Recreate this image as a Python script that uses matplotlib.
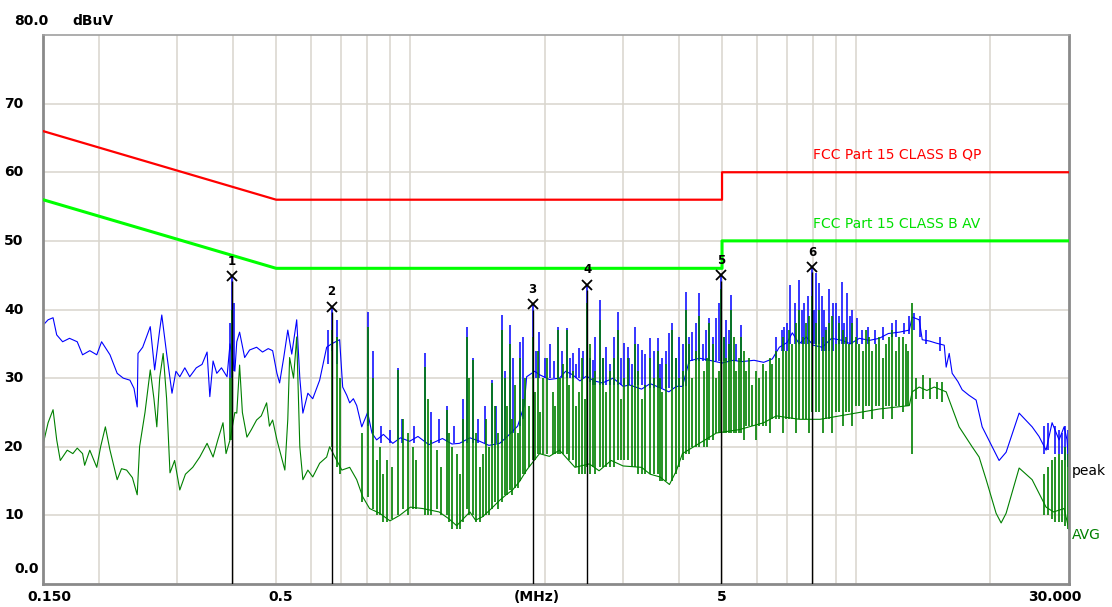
import numpy as np
import matplotlib.pyplot as plt
from matplotlib import transforms

W, H = 1112, 607

# FCC Part 15 class B limits (MHz, dBuV)
qp_f = [0.15, 0.5, 5.0, 5.0, 30.0]
qp_db = [66, 56, 56, 60, 60]
av_f = [0.15, 0.5, 5.0, 5.0, 30.0]
av_db = [56, 46, 46, 50, 50]

# peak trace (MHz, dBuV)
peak_trace = [
    (0.150, 37.7), (0.154, 38.5), (0.158, 38.8), (0.161, 36.3), (0.166, 35.3), (0.172, 35.8),
    (0.179, 35.3), (0.184, 33.4), (0.191, 34.0), (0.198, 33.4), (0.203, 35.3), (0.212, 33.4),
    (0.220, 30.7), (0.227, 30.0), (0.235, 29.7), (0.240, 28.5), (0.244, 25.8), (0.245, 33.6),
    (0.251, 34.5), (0.261, 37.5), (0.267, 31.2), (0.274, 37.0), (0.277, 39.2), (0.284, 33.6),
    (0.292, 27.8), (0.298, 31.0), (0.304, 30.2), (0.312, 31.5), (0.320, 30.2), (0.331, 31.5),
    (0.341, 32.0), (0.350, 33.8), (0.355, 27.3), (0.361, 32.5), (0.368, 30.7), (0.377, 31.5),
    (0.388, 30.2), (0.394, 35.0), (0.404, 31.0), (0.408, 35.3), (0.414, 36.7), (0.425, 33.0),
    (0.436, 34.1), (0.452, 34.5), (0.466, 33.8), (0.480, 34.3), (0.491, 34.0), (0.502, 30.7),
    (0.509, 29.3), (0.520, 33.0), (0.531, 37.0), (0.542, 33.5), (0.556, 38.5), (0.565, 30.0),
    (0.574, 24.9), (0.589, 27.8), (0.604, 27.0), (0.626, 29.7), (0.649, 34.5), (0.666, 35.0),
    (0.694, 35.6), (0.705, 28.7), (0.720, 27.5), (0.731, 26.4), (0.745, 27.0), (0.758, 26.0),
    (0.778, 22.9), (0.802, 25.0), (0.820, 22.0), (0.840, 21.0), (0.870, 21.8), (0.913, 20.5),
    (0.950, 21.3), (0.996, 20.8), (1.04, 21.5), (1.10, 20.3), (1.18, 21.2), (1.24, 20.4),
    (1.289, 20.5), (1.36, 21.3), (1.43, 20.8), (1.50, 20.2), (1.586, 20.5), (1.65, 21.5),
    (1.74, 23.0), (1.80, 26.0), (1.823, 30.2), (1.90, 31.0), (1.948, 30.5), (2.05, 29.8),
    (2.160, 30.0), (2.23, 31.0), (2.310, 30.5), (2.40, 29.6), (2.483, 30.3), (2.58, 29.6),
    (2.698, 29.3), (2.85, 30.0), (3.00, 28.8), (3.10, 29.0), (3.30, 28.4), (3.45, 29.2),
    (3.63, 28.6), (3.80, 28.0), (3.95, 28.8), (4.075, 28.8), (4.22, 32.5), (4.45, 32.9),
    (4.685, 32.6), (5.00, 32.2), (5.30, 32.6), (5.526, 32.4), (5.90, 32.6), (6.20, 32.3),
    (6.483, 32.8), (6.722, 34.5), (7.0, 35.2), (7.188, 36.6), (7.45, 35.0), (7.727, 36.0),
    (8.0, 34.8), (8.392, 34.5), (8.8, 35.8), (9.30, 35.5), (9.70, 35.0), (10.16, 35.8),
    (10.7, 35.5), (11.26, 35.8), (11.8, 36.5), (12.5, 36.7), (13.15, 37.0), (13.35, 38.9),
    (13.84, 38.5), (14.06, 35.6), (14.6, 35.4), (15.11, 35.1), (15.75, 34.8), (15.91, 31.6),
    (16.16, 33.6), (16.41, 30.7), (16.9, 29.5), (17.28, 28.3), (17.9, 27.5), (18.57, 26.8),
    (19.16, 22.9), (20.17, 20.0), (20.91, 18.0), (21.68, 19.2), (23.19, 24.9), (24.80, 22.9),
    (25.7, 21.5), (26.65, 19.5), (27.49, 23.5), (28.50, 21.0), (29.25, 22.9), (29.7, 21.0),
    (30.0, 16.6),
]
# peak spikes: (MHz, low, high)
peak_spikes = [
    (0.394, 30, 38), (0.398, 30, 44.9), (0.402, 31, 41),
    (0.655, 32, 37), (0.666, 34, 40.4), (0.684, 32, 38.5),
    (0.802, 23, 39.6), (0.823, 22, 34), (0.86, 20.5, 23), (0.90, 20.5, 22.5),
    (0.937, 21, 31.5), (0.96, 20.5, 24), (1.02, 20.5, 23), (1.076, 20.7, 33.7),
    (1.11, 20.5, 25), (1.16, 20.5, 24), (1.206, 20.7, 26), (1.25, 20.5, 23), (1.31, 20.5, 27),
    (1.337, 20.5, 37.5), (1.379, 20.5, 33), (1.42, 20.5, 24), (1.47, 20.5, 26),
    (1.521, 20.5, 29.7), (1.56, 20.5, 26), (1.602, 20.5, 39.2), (1.63, 21, 31),
    (1.669, 22, 37.7), (1.70, 22, 33), (1.758, 23, 35.3), (1.79, 24, 36),
    (1.880, 30, 40.8), (1.91, 30, 34), (1.948, 30, 36.7), (2.00, 30, 33), (2.06, 30, 35),
    (2.10, 30, 32.5), (2.138, 30, 37.5), (2.19, 30, 34), (2.240, 30, 37.3), (2.28, 30, 33),
    (2.310, 30, 33.6), (2.35, 30, 32), (2.395, 30, 34.4), (2.44, 30, 34), (2.496, 30, 43.6),
    (2.53, 29.5, 33), (2.562, 29, 32.6), (2.60, 29, 36), (2.656, 29, 41.4), (2.70, 29, 33),
    (2.753, 29, 34.5), (2.80, 29, 32), (2.86, 29, 36), (2.915, 29, 39.6), (2.97, 29, 33),
    (3.021, 29, 35.1), (3.07, 29, 34.5), (3.10, 29, 33), (3.14, 29, 32), (3.182, 29, 37.5),
    (3.24, 29, 35), (3.299, 29, 34.1), (3.36, 28.6, 33.5), (3.438, 28.6, 35.8),
    (3.51, 28.6, 34), (3.583, 28.6, 35.8), (3.63, 28.6, 32), (3.675, 28.6, 33),
    (3.74, 28.6, 34), (3.811, 28.6, 36.6), (3.870, 28.6, 38), (3.94, 28.6, 33),
    (4.014, 28.8, 36), (4.09, 28.8, 35), (4.160, 28.8, 42.5), (4.22, 32, 36),
    (4.290, 32.5, 36.7), (4.37, 32.5, 38), (4.449, 32.5, 42.4), (4.53, 32.5, 35),
    (4.60, 32.5, 37), (4.685, 32.5, 38.8), (4.77, 32.5, 36), (4.856, 32.5, 38.8),
    (4.92, 32.5, 41), (4.983, 32.5, 45), (5.05, 32.5, 36), (5.114, 32.5, 38.5),
    (5.18, 32.5, 37), (5.247, 32.5, 42.1), (5.38, 32.5, 35), (5.526, 32.4, 37.7),
    (6.6, 33, 36), (6.8, 34, 37), (6.9, 34, 37.5), (7.0, 34, 38),
    (7.10, 35, 43.6), (7.3, 35, 41), (7.453, 35, 44.3), (7.55, 35, 40), (7.65, 35, 41),
    (7.8, 35, 42), (7.970, 35, 46.2), (8.05, 35, 40), (8.136, 35, 45.3), (8.262, 35, 43.9),
    (8.392, 34, 42), (8.45, 34, 40), (8.55, 34, 37.5), (8.70, 34, 43), (8.85, 34, 41),
    (9.0, 35, 41), (9.15, 35, 39), (9.30, 35, 44), (9.4, 35, 38), (9.55, 35, 42.4),
    (9.7, 35, 39), (9.80, 35, 40), (10.05, 35, 38.8), (10.3, 35, 37), (10.6, 35, 37.5),
    (11.0, 35, 37), (11.5, 35.5, 37.5), (12.0, 36, 38), (12.3, 36, 38.5), (12.8, 36.5, 38),
    (13.1, 36.5, 39), (13.5, 37, 39.5), (13.9, 36, 39), (14.3, 35, 37), (15.4, 34, 36),
    (26.39, 19, 23), (26.94, 19.5, 23.5), (27.93, 19, 23), (28.5, 19, 22.5), (28.95, 19, 22),
    (29.4, 18, 23), (29.85, 17, 22.5),
]

# average trace (MHz, dBuV)
avg_trace = [
    (0.150, 20.3), (0.154, 23.5), (0.158, 25.4), (0.161, 21.0), (0.164, 18.0), (0.170, 19.5),
    (0.175, 19.0), (0.179, 19.8), (0.184, 19.0), (0.186, 17.3), (0.191, 19.5), (0.198, 17.0),
    (0.202, 20.0), (0.207, 22.9), (0.212, 19.5), (0.220, 15.2), (0.225, 16.8), (0.231, 16.6),
    (0.238, 15.5), (0.244, 13.0), (0.247, 20.0), (0.254, 25.0), (0.261, 31.2), (0.266, 27.0),
    (0.270, 22.9), (0.274, 30.0), (0.279, 33.6), (0.284, 27.0), (0.289, 16.2), (0.296, 18.0),
    (0.304, 13.7), (0.313, 16.0), (0.325, 17.0), (0.337, 18.5), (0.350, 20.5), (0.361, 18.5),
    (0.370, 21.0), (0.380, 23.5), (0.386, 19.0), (0.394, 21.0), (0.404, 25.0), (0.408, 24.9),
    (0.414, 31.9), (0.420, 25.0), (0.430, 21.4), (0.440, 22.5), (0.452, 23.9), (0.463, 24.5),
    (0.476, 26.4), (0.483, 23.0), (0.491, 23.9), (0.502, 21.0), (0.509, 19.5), (0.523, 16.6),
    (0.531, 24.0), (0.536, 33.0), (0.547, 30.0), (0.556, 36.0), (0.565, 20.0), (0.574, 15.2),
    (0.589, 16.6), (0.604, 15.6), (0.626, 17.6), (0.649, 18.5), (0.659, 20.0), (0.702, 16.6),
    (0.731, 17.0), (0.758, 15.2), (0.782, 12.7), (0.81, 11.0), (0.854, 10.3), (0.90, 9.2),
    (0.946, 10.0), (1.00, 11.2), (1.065, 11.0), (1.16, 10.5), (1.22, 9.5), (1.270, 8.5),
    (1.36, 10.5), (1.40, 9.3), (1.452, 9.8), (1.52, 11.0), (1.586, 12.2), (1.64, 13.0),
    (1.695, 13.7), (1.76, 15.0), (1.823, 16.6), (1.948, 19.0), (2.05, 18.6), (2.160, 19.5),
    (2.34, 17.0), (2.52, 17.5), (2.65, 16.5), (2.82, 18.0), (3.00, 17.2), (3.30, 17.0),
    (3.45, 16.0), (3.63, 15.6), (3.811, 14.5), (3.95, 16.5), (4.075, 19.0), (4.449, 20.5),
    (4.856, 22.0), (5.47, 22.5), (6.2, 23.5), (6.619, 24.5), (7.453, 24.0), (8.30, 24.0),
    (10.16, 25.0), (11.26, 25.5), (13.15, 26.0), (13.35, 28.0), (13.84, 28.7), (14.4, 28.2),
    (14.96, 28.7), (15.91, 28.0), (16.16, 26.8), (17.01, 22.9), (18.19, 20.0), (18.86, 18.5),
    (19.56, 15.2), (20.59, 10.3), (21.13, 8.9), (21.68, 10.3), (23.19, 16.9), (24.80, 15.2),
    (26.65, 11.2), (27.7, 10.5), (29.25, 11.0), (30.0, 7.9),
]
avg_spikes = [
    (0.394, 21, 30), (0.398, 21, 40), (0.666, 20, 37), (0.684, 17, 36), (0.694, 16, 30),
    (0.78, 12, 22), (0.802, 12.7, 37.5), (0.823, 11, 30), (0.84, 10, 18), (0.854, 10, 20),
    (0.87, 9, 16), (0.885, 9, 18), (0.91, 9.5, 17), (0.937, 10, 31.2), (0.961, 11, 24),
    (0.99, 10, 22), (1.012, 11, 20), (1.03, 11, 18), (1.076, 10, 31.6), (1.094, 10, 27),
    (1.11, 10, 21), (1.145, 11, 19.5), (1.17, 10, 17), (1.206, 10, 25.4), (1.22, 9, 22),
    (1.238, 8, 20), (1.270, 8, 19), (1.29, 8, 16), (1.31, 9, 24), (1.337, 11, 36),
    (1.357, 10, 30), (1.379, 10, 32.6), (1.40, 9, 22), (1.43, 9, 17), (1.452, 9.8, 19),
    (1.48, 10, 24), (1.50, 10, 20), (1.521, 11, 29.3), (1.545, 12, 26), (1.57, 11, 22),
    (1.602, 12, 37), (1.628, 13, 30), (1.65, 13, 26), (1.669, 13.7, 35), (1.69, 13, 24),
    (1.713, 14, 29), (1.74, 14, 22), (1.758, 15, 33), (1.785, 16, 27), (1.81, 16, 30),
    (1.85, 17, 26), (1.880, 18, 36), (1.90, 18, 28), (1.929, 19, 34), (1.95, 19, 25),
    (1.979, 19, 30), (2.03, 19, 33), (2.084, 19, 28), (2.11, 19, 26), (2.138, 19, 37),
    (2.17, 19, 30), (2.195, 19, 32), (2.240, 19, 37), (2.27, 18, 29), (2.310, 18, 31),
    (2.35, 17, 26), (2.395, 16, 28), (2.43, 16, 33), (2.47, 16, 27), (2.496, 17, 41),
    (2.53, 16, 35), (2.562, 17, 30), (2.60, 16, 31), (2.656, 17, 38.5), (2.70, 17, 33),
    (2.753, 17, 28), (2.80, 17, 31), (2.86, 17, 33), (2.915, 18, 37), (2.97, 18, 27),
    (3.021, 18, 30), (3.07, 18, 33), (3.14, 17, 29), (3.182, 17, 35), (3.24, 16, 31),
    (3.299, 16, 27), (3.36, 16, 29), (3.438, 16, 33), (3.51, 16, 30), (3.583, 16, 34),
    (3.63, 15, 30), (3.675, 15, 28), (3.74, 15, 32), (3.870, 15, 37), (3.94, 16, 33),
    (4.014, 17, 30), (4.09, 18, 31), (4.160, 19, 40), (4.22, 19, 35), (4.290, 20, 30),
    (4.37, 20, 34), (4.449, 20, 39), (4.565, 20, 31), (4.62, 20, 33), (4.685, 21, 38),
    (4.77, 21, 35), (4.856, 22, 30), (4.92, 22, 31), (4.983, 22, 43), (5.05, 22, 36),
    (5.114, 22, 33), (5.18, 22, 35), (5.247, 22, 40), (5.31, 22, 36), (5.384, 22, 31),
    (5.45, 22, 33), (5.526, 22, 36), (5.60, 21, 34), (5.672, 23, 31), (5.76, 23, 33),
    (5.847, 23, 29), (5.95, 21, 31), (6.065, 23, 30), (6.17, 23, 32), (6.287, 23, 31),
    (6.39, 22, 33), (6.483, 24, 32), (6.60, 24, 34), (6.722, 24, 33), (6.85, 22, 36),
    (6.971, 24, 34), (7.08, 24, 37), (7.188, 24, 35), (7.32, 22, 38), (7.453, 24, 40),
    (7.59, 24, 36), (7.727, 24, 38), (7.85, 22, 39), (7.970, 25, 42), (8.12, 25, 38),
    (8.262, 25, 40), (8.41, 22, 36), (8.567, 24, 37), (8.70, 24, 38), (8.836, 22, 39),
    (9.0, 25, 35), (9.161, 25, 38), (9.33, 23, 37), (9.497, 25, 36), (9.65, 25, 35),
    (9.796, 23, 38), (9.98, 26, 36), (10.16, 26, 35), (10.35, 24, 34), (10.53, 26, 37),
    (10.70, 26, 36), (10.86, 24, 34), (11.06, 26, 35), (11.26, 26, 36), (11.46, 24, 33),
    (11.67, 26, 35), (11.86, 26, 36), (12.04, 24, 37), (12.27, 26, 34), (12.49, 26, 36),
    (12.72, 25, 36), (12.95, 26, 35), (13.05, 26, 34), (13.35, 19, 41),
    (13.6, 27, 30), (14.1, 27, 30.5), (14.6, 27, 30), (15.2, 27, 29.5), (15.6, 26.5, 29.5),
    (26.39, 10, 16), (26.94, 10, 17), (27.49, 9.5, 18), (27.93, 9, 18.5), (28.5, 9, 19),
    (28.95, 9, 18), (29.4, 8.5, 20), (29.85, 8, 19),
]

# markers
mk_f = [0.398, 0.666, 1.880, 2.496, 4.983, 7.970]
mk_db = [44.9, 40.4, 40.8, 43.6, 45.0, 46.2]
mk_no = ['1', '2', '3', '4', '5', '6']

y_ticks = [70, 60, 50, 40, 30, 20, 10]
x_grid = [0.2, 0.3, 0.4, 0.5, 0.6, 0.7, 0.8, 0.9, 1, 2, 3, 4, 5, 6, 7, 8, 9, 10, 20]


def px(x, y):
    return x / W, 1 - y / H


fig = plt.figure(figsize=(W / 100, H / 100), dpi=100)
ax = fig.add_axes([43 / W, 23 / H, 1026 / W, 549 / H])
ax.set_xscale('log')
ax.set_xlim(0.15, 30)
ax.set_ylim(0, 80)
ax.set_xticks([])
ax.set_xticks([], minor=True)
ax.set_yticks([])

grid_c = '#d9d5cd'
for g in x_grid:
    ax.axvline(g, color=grid_c, lw=1.1, zorder=0)
for t in y_ticks:
    ax.axhline(t, color=grid_c, lw=1.1, zorder=0)

for s in ax.spines.values():
    s.set_color('#8a8a8a')
    s.set_linewidth(2)
ax.spines['top'].set_linewidth(1.2)
ax.spines['top'].set_color('#a0a0a0')

ax.plot(qp_f, qp_db, color='#ff0000', lw=1.6, zorder=3)
ax.plot(av_f, av_db, color='#00ff00', lw=2.2, zorder=3)

pf, pd = zip(*peak_trace)
ax.plot(pf, pd, color='#0000ff', lw=0.8, zorder=2)
sf, slo, shi = zip(*peak_spikes)
ax.vlines(sf, slo, shi, color='#0000ff', lw=1.1, zorder=2)

af, ad = zip(*avg_trace)
ax.plot(af, ad, color='#008000', lw=0.8, zorder=2.5)
gf, glo, ghi = zip(*avg_spikes)
ax.vlines(gf, glo, ghi, color='#008000', lw=1.2, zorder=2.5)

ax.vlines(mk_f, 0, np.array(mk_db) - 0.8, color='black', lw=1.0, zorder=4)
ax.plot(mk_f, mk_db, 'x', color='black', ms=7, mew=1.3, zorder=5)
for f, d, n in zip(mk_f, mk_db, mk_no):
    ax.annotate(n, (f, d), xytext=(0, 6), textcoords='offset points',
                ha='center', va='bottom', fontsize=8.5, fontweight='bold', zorder=6)

ax.text(8.0, 61.5, 'FCC Part 15 CLASS B QP', color='#ff0000', fontsize=10, va='bottom')
ax.text(8.0, 51.5, 'FCC Part 15 CLASS B AV', color='#00e000', fontsize=10, va='bottom')

lab = dict(fontsize=10, fontweight='bold', va='center')
fig.text(*px(14, 21), '80.0', ha='left', **lab)
fig.text(*px(72, 21), 'dBuV', ha='left', **lab)
ytr = transforms.blended_transform_factory(fig.transFigure, ax.transData)
for t in y_ticks:
    ax.text(4 / W, t, str(t), transform=ytr, ha='left', **lab)
fig.text(*px(14, 569), '0.0', ha='left', **lab)
fig.text(*px(49, 597), '0.150', ha='center', **lab)
fig.text(*px(281, 597), '0.5', ha='center', **lab)
fig.text(*px(537, 597), '(MHz)', ha='center', **lab)
fig.text(*px(722, 597), '5', ha='center', **lab)
fig.text(*px(1055, 597), '30.000', ha='center', **lab)
fig.text(*px(1072, 471), 'peak', ha='left', fontsize=10, va='center', color='black')
fig.text(*px(1072, 535), 'AVG', ha='left', fontsize=10, va='center', color='#008000')

fig.savefig('out.png', dpi=100)
